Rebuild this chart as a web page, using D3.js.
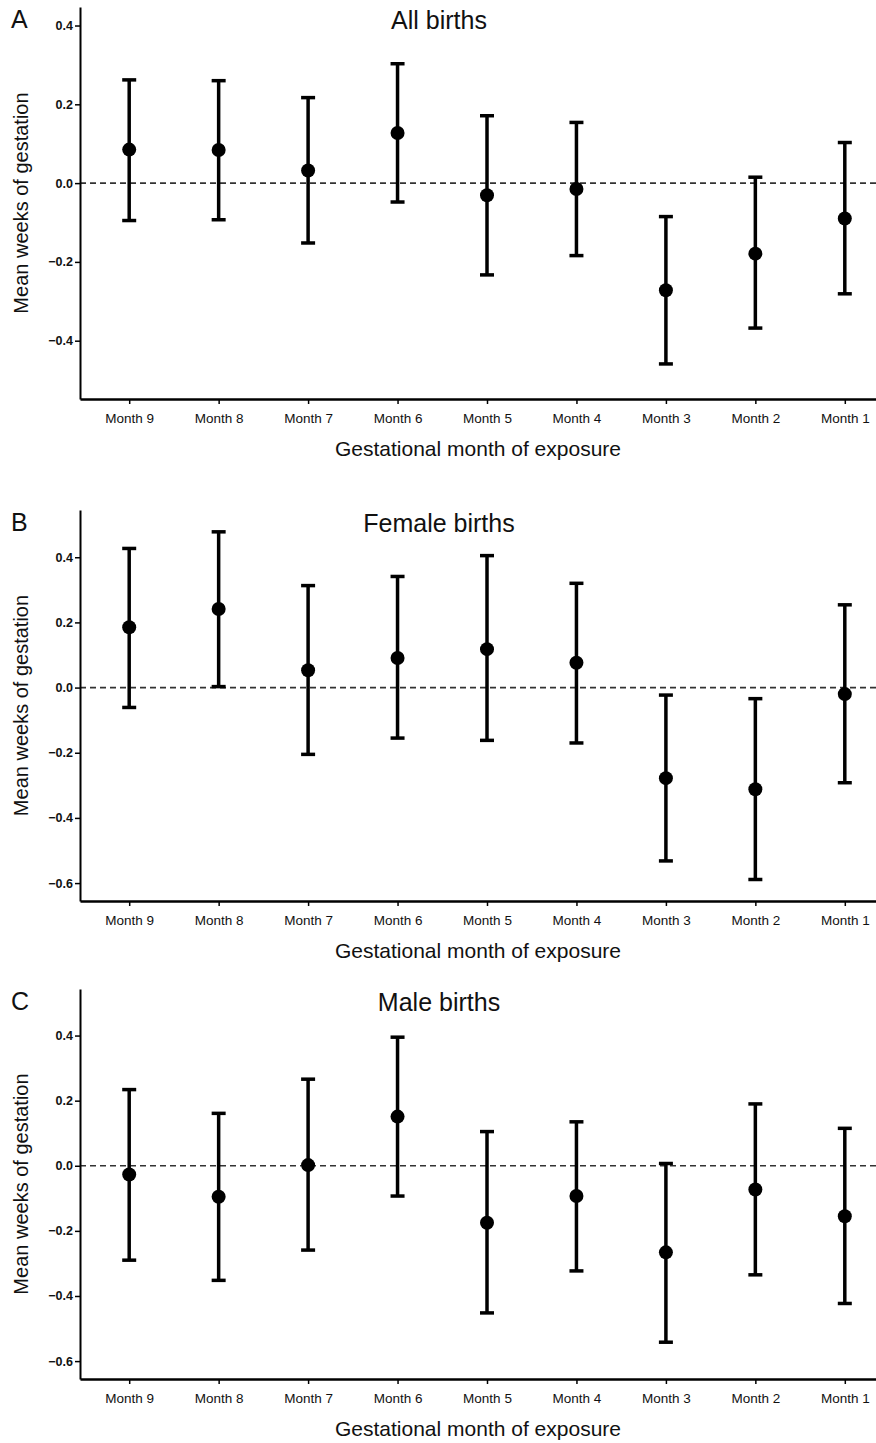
<!DOCTYPE html>
<html>
<head>
<meta charset="utf-8">
<script src="https://cdn.jsdelivr.net/npm/d3@7"></script>
<style>
  body { margin: 0; background: #fff; }
  svg { display: block; font-family: "Liberation Sans", Arial, sans-serif; }
</style>
</head>
<body>
<div id="chart"></div>
<script>
const width = 876
const height = 1443

const months = ["Month 9", "Month 8", "Month 7", "Month 6", "Month 5", "Month 4", "Month 3", "Month 2", "Month 1"]

// All births
const allMean = [0.085, 0.084, 0.032, 0.127, -0.031, -0.015, -0.272, -0.179, -0.09]
const allLow = [-0.095, -0.093, -0.152, -0.048, -0.233, -0.184, -0.459, -0.368, -0.281]
const allHigh = [0.262, 0.26, 0.217, 0.303, 0.171, 0.154, -0.085, 0.015, 0.103]

// Female births
const femaleMean = [0.185, 0.241, 0.053, 0.091, 0.118, 0.076, -0.278, -0.312, -0.02]
const femaleLow = [-0.061, 0.003, -0.205, -0.155, -0.162, -0.17, -0.532, -0.589, -0.292]
const femaleHigh = [0.427, 0.478, 0.313, 0.341, 0.405, 0.32, -0.023, -0.034, 0.254]

// Male births
const maleMean = [-0.027, -0.095, 0.002, 0.151, -0.175, -0.093, -0.266, -0.073, -0.155]
const maleLow = [-0.29, -0.352, -0.259, -0.093, -0.452, -0.323, -0.542, -0.335, -0.423]
const maleHigh = [0.234, 0.161, 0.266, 0.395, 0.105, 0.135, 0.007, 0.19, 0.115]

const allTicks = [0.4, 0.2, 0.0, -0.2, -0.4]
const sexTicks = [0.4, 0.2, 0.0, -0.2, -0.4, -0.6]

const rows = (mean, low, high) => months.map((m, i) => ({ month: m, mean: mean[i], low: low[i], high: high[i] }))

const panels = [
    { letter: "A", title: "All births", data: rows(allMean, allLow, allHigh), domain: [-0.548, 0.447], ticks: allTicks, top: 7, bottom: 399 },
    { letter: "B", title: "Female births", data: rows(femaleMean, femaleLow, femaleHigh), domain: [-0.655, 0.545], ticks: sexTicks, top: 510, bottom: 901 },
    { letter: "C", title: "Male births", data: rows(maleMean, maleLow, maleHigh), domain: [-0.655, 0.543], ticks: sexTicks, top: 989, bottom: 1379 }
]

const left = 80
const x = d3.scalePoint().domain(months).range([left, 894]).padding(0.55)
const fmt = d3.format(".1f")

const svg = d3.select("#chart").append("svg")
    .attr("width", width)
    .attr("height", height)

panels.forEach(p => {
    const y = d3.scaleLinear().domain(p.domain).range([p.bottom, p.top])
    const g = svg.append("g")

    // zero reference line
    g.append("line")
        .attr("x1", left)
        .attr("x2", width)
        .attr("y1", y(0))
        .attr("y2", y(0))
        .attr("stroke", "#333")
        .attr("stroke-width", 1.6)
        .attr("stroke-dasharray", "6,4")

    // y axis
    const ya = g.append("g")
        .attr("transform", `translate(${left},0)`)
        .call(d3.axisLeft(y).tickValues(p.ticks).tickFormat(fmt).tickSize(5).tickSizeOuter(0))
    ya.select(".domain").attr("stroke-width", 2)
    ya.selectAll(".tick line").attr("stroke-width", 1.5)
    ya.selectAll("text")
        .attr("font-size", 12.5)
        .attr("font-weight", "bold")
        .attr("fill", "#111")
        .attr("x", -7)

    // x axis
    const xa = g.append("g")
        .attr("transform", `translate(0,${p.bottom})`)
        .call(d3.axisBottom(x).tickSize(5).tickSizeOuter(0))
    xa.select(".domain").attr("stroke-width", 2.5)
    xa.selectAll(".tick line").attr("stroke-width", 1.5)
    xa.selectAll("text")
        .attr("font-size", 13.5)
        .attr("fill", "#111")
        .attr("y", 14)

    // error bars
    const bars = g.append("g")
        .selectAll("g")
        .data(p.data)
        .join("g")
        .attr("stroke", "#000")
        .attr("stroke-width", 3.5)

    bars.append("line")
        .attr("x1", d => x(d.month))
        .attr("x2", d => x(d.month))
        .attr("y1", d => y(d.low))
        .attr("y2", d => y(d.high))

    bars.append("line")
        .attr("x1", d => x(d.month) - 7)
        .attr("x2", d => x(d.month) + 7)
        .attr("y1", d => y(d.high))
        .attr("y2", d => y(d.high))

    bars.append("line")
        .attr("x1", d => x(d.month) - 7)
        .attr("x2", d => x(d.month) + 7)
        .attr("y1", d => y(d.low))
        .attr("y2", d => y(d.low))

    g.append("g")
        .selectAll("circle")
        .data(p.data)
        .join("circle")
        .attr("cx", d => x(d.month))
        .attr("cy", d => y(d.mean))
        .attr("r", 7)
        .attr("fill", "#000")

    // titles and labels
    g.append("text")
        .attr("x", 439)
        .attr("y", p.top + 22)
        .attr("text-anchor", "middle")
        .attr("font-size", 25)
        .attr("fill", "#111")
        .text(p.title)

    g.append("text")
        .attr("x", 11)
        .attr("y", p.top + 21)
        .attr("font-size", 25)
        .attr("fill", "#111")
        .text(p.letter)

    g.append("text")
        .attr("transform", `translate(28,${(p.top + p.bottom) / 2}) rotate(-90)`)
        .attr("text-anchor", "middle")
        .attr("font-size", 20)
        .attr("fill", "#111")
        .text("Mean weeks of gestation")

    g.append("text")
        .attr("x", 478)
        .attr("y", p.bottom + 57)
        .attr("text-anchor", "middle")
        .attr("font-size", 21)
        .attr("fill", "#111")
        .text("Gestational month of exposure")
})
</script>
</body>
</html>
